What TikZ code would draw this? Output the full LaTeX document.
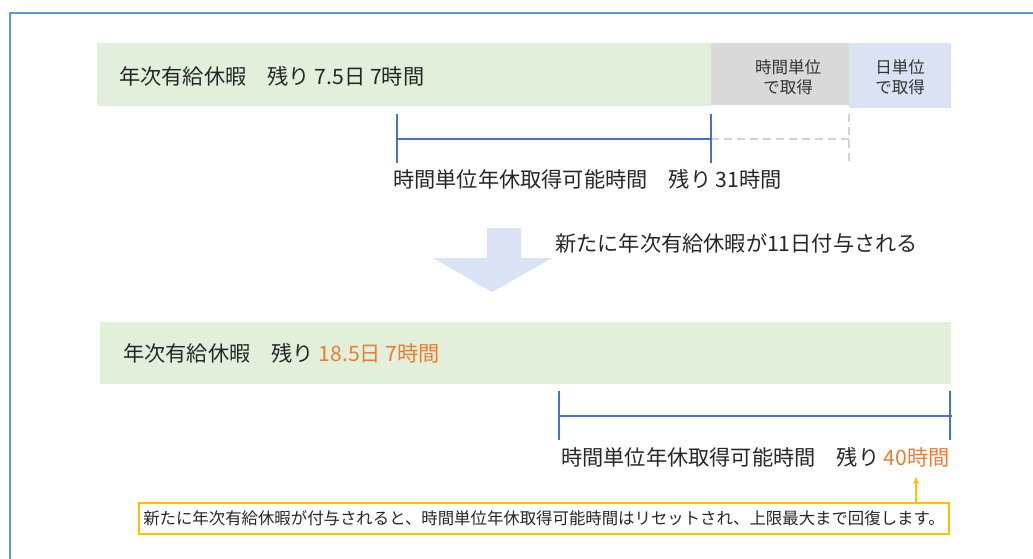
\documentclass[tikz,border=0pt]{standalone}
\usepackage{fontspec}
\setmainfont{Noto Sans CJK JP}
\usetikzlibrary{arrows.meta}
\definecolor{frameblue}{RGB}{91,155,213}
\definecolor{bargreen}{RGB}{226,239,218}
\definecolor{bargray}{RGB}{217,217,217}
\definecolor{barblue}{RGB}{218,227,243}
\definecolor{brblue}{RGB}{68,114,196}
\definecolor{accent}{RGB}{237,125,49}
\definecolor{noteyellow}{RGB}{255,192,0}
\definecolor{dashgray}{RGB}{210,210,210}
\tikzset{
  bar/.style={draw=none, inner sep=0pt, anchor=north west},
  bigtext/.style={anchor=west, inner sep=0pt, font=\fontsize{21.2}{25}\selectfont, text=black!85},
  smalltext/.style={inner sep=0pt, align=center, font=\fontsize{16.5}{19.5}\selectfont, text=black!80},
  bracket/.style={draw=brblue, line width=1.2pt},
  dashline/.style={draw=dashgray, line width=1.5pt, dash pattern=on 8pt off 5pt},
}
\begin{document}
\begin{tikzpicture}[x=1pt,y=-1pt]
\useasboundingbox (0,0) rectangle (1033,558);
% outer frame
\draw[frameblue, line width=2pt] (10,570) -- (10,13) -- (1045,13);

% top bar
\node[bar, fill=bargreen, minimum width=614pt, minimum height=63pt] (g1) at (97,43) {};
\node[bar, fill=bargray, minimum width=138pt, minimum height=62pt] (gr1) at (711,43) {};
\node[bar, fill=barblue, minimum width=102pt, minimum height=65pt] (bl1) at (849,43) {};
\node[bigtext] (t1) at (119,76) {年次有給休暇　残り 7.5日 7時間};
\node[smalltext] (t2) at (788,77) {時間単位\\で取得};
\node[smalltext] (t3) at (900,77) {日単位\\で取得};

% top bracket
\coordinate (a1) at (397,114); \coordinate (a2) at (397,163);
\coordinate (b1) at (711,114); \coordinate (b2) at (711,163);
\coordinate (am) at (397,139); \coordinate (bm) at (711,139);
\coordinate (cm) at (849,139);
\coordinate (c1) at (849,114); \coordinate (c2) at (849,163);
\draw[dashline] (bm) -- (cm);
\draw[dashline] (c1) -- (c2);
\draw[bracket] (a1) -- (a2);
\draw[bracket] (b1) -- (b2);
\draw[bracket] (am) -- (bm);
\node[bigtext] (t4) at (393,179) {時間単位年休取得可能時間　残り 31時間};

% block arrow
\fill[barblue] (487,228) -- (521,228) -- (521,258) -- (552,258) -- (492,292) -- (433,258) -- (487,258) -- cycle;
\node[bigtext] (t5) at (555,243) {新たに年次有給休暇が11日付与される};

% bottom bar
\node[bar, fill=bargreen, minimum width=851pt, minimum height=62pt] (g2) at (100,322) {};
\node[bigtext] (t6) at (123,353) {年次有給休暇　残り \textcolor{accent}{18.5日 7時間}};

% bottom bracket
\coordinate (d1) at (559,391); \coordinate (d2) at (559,440);
\coordinate (e1) at (950,391); \coordinate (e2) at (950,440);
\coordinate (dm) at (559,416); \coordinate (em) at (952,416);
\draw[bracket] (d1) -- (d2);
\draw[bracket] (e1) -- (e2);
\draw[bracket] (dm) -- (em);
\node[bigtext] (t7) at (561,457) {時間単位年休取得可能時間　残り \textcolor{accent}{40時間}};

% note box
\node[draw=noteyellow, line width=1.5pt, minimum width=810pt, minimum height=31pt, inner sep=0pt,
      font=\fontsize{16.4}{19}\selectfont, text=black!85] (n1) at (544,518.5)
  {新たに年次有給休暇が付与されると、時間単位年休取得可能時間はリセットされ、上限最大まで回復します。};
\coordinate (n1top) at (916,503);
\coordinate (t7tip) at (916,477);
\draw[noteyellow, line width=1.3pt, -{Stealth[length=7pt,width=6pt]}] (n1top) -- (t7tip);
\end{tikzpicture}
\end{document}
